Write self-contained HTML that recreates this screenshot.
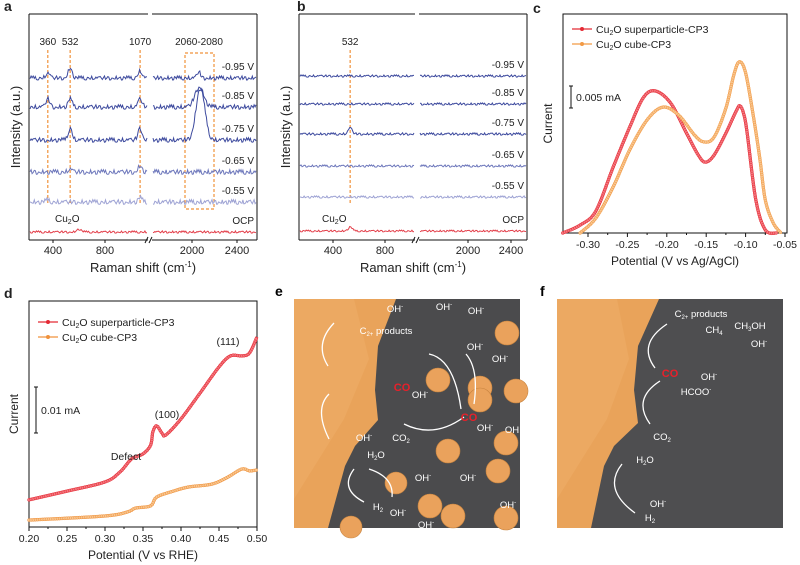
<!DOCTYPE html>
<html><head><meta charset="utf-8">
<style>
body{margin:0;background:#fff;}
svg{display:block;font-family:"Liberation Sans",Arial,sans-serif;}
</style></head>
<body>
<svg id="fig" width="800" height="565" viewBox="0 0 800 565" xmlns="http://www.w3.org/2000/svg">
<g id="pa"></g>
<g id="pb"></g>
<g id="pc"></g>
<g id="pd"></g>

<g id="pe" transform="translate(294,299)">
 <rect x="0" y="0" width="226" height="229" fill="#4b4b4d"/>
 <polygon points="0,0 102,0 84,47 81,91 84,121 61,147 51,167 34,229 0,229" fill="#e9a35a"/>
 <polygon points="0,0 60,0 75,60 50,120 0,200" fill="#f0b06a" opacity="0.5"/>
 <g fill="#eaa25c" stroke="#c8843f" stroke-width="0.6">
  <circle cx="213" cy="34" r="12"/><circle cx="144" cy="81" r="12"/><circle cx="186" cy="89" r="12"/><circle cx="186" cy="101" r="12"/><circle cx="222" cy="92" r="12"/><circle cx="154" cy="152" r="12"/><circle cx="212" cy="144" r="12"/><circle cx="204" cy="172" r="12"/><circle cx="102" cy="184" r="11"/><circle cx="136" cy="207" r="12"/><circle cx="159" cy="217" r="12"/><circle cx="212" cy="219" r="12"/><circle cx="57" cy="228" r="11"/>
 </g>
 <g fill="none" stroke="#fff" stroke-width="1.3">
  <path d="M35,140 Q20,110 35,95"/><path d="M34,67 Q20,45 40,24"/><path d="M110,125 Q140,140 170,118"/><path d="M167,110 Q160,60 135,55"/><path d="M180,105 Q185,70 172,55"/><path d="M60,170 Q45,190 70,203"/><path d="M75,170 Q100,178 98,198"/>
 </g>
 <g fill="#fff" font-size="9.5">
  <text x="92" y="35" text-anchor="middle">C<tspan font-size="6" dy="2">2+</tspan><tspan dy="-2"> products</tspan></text>
  <text x="101" y="13" text-anchor="middle">OH<tspan font-size="6" dy="-4">-</tspan></text>
  <text x="150" y="11" text-anchor="middle">OH<tspan font-size="6" dy="-4">-</tspan></text>
  <text x="182" y="15" text-anchor="middle">OH<tspan font-size="6" dy="-4">-</tspan></text>
  <text x="181" y="51" text-anchor="middle">OH<tspan font-size="6" dy="-4">-</tspan></text>
  <text x="206" y="63" text-anchor="middle">OH<tspan font-size="6" dy="-4">-</tspan></text>
  <text x="126" y="99" text-anchor="middle">OH<tspan font-size="6" dy="-4">-</tspan></text>
  <text x="191" y="132" text-anchor="middle">OH<tspan font-size="6" dy="-4">-</tspan></text>
  <text x="218" y="134" text-anchor="middle">OH</text>
  <text x="70" y="142" text-anchor="middle">OH<tspan font-size="6" dy="-4">-</tspan></text>
  <text x="129" y="182" text-anchor="middle">OH<tspan font-size="6" dy="-4">-</tspan></text>
  <text x="174" y="182" text-anchor="middle">OH<tspan font-size="6" dy="-4">-</tspan></text>
  <text x="104" y="217" text-anchor="middle">OH<tspan font-size="6" dy="-4">-</tspan></text>
  <text x="214" y="209" text-anchor="middle">OH<tspan font-size="6" dy="-4">-</tspan></text>
  <text x="132" y="229" text-anchor="middle">OH<tspan font-size="6" dy="-4">-</tspan></text>
  <text x="107" y="142" text-anchor="middle">CO<tspan font-size="6" dy="2">2</tspan></text>
  <text x="82" y="159" text-anchor="middle">H<tspan font-size="6" dy="2">2</tspan><tspan dy="-2">O</tspan></text>
  <text x="84" y="211" text-anchor="middle">H<tspan font-size="6" dy="2">2</tspan></text>
  <text x="108" y="92" text-anchor="middle" fill="#e8202a" font-size="11" font-weight="bold">CO</text>
  <text x="175" y="122" text-anchor="middle" fill="#e8202a" font-size="11" font-weight="bold">CO</text>
 </g>
</g>

<g id="pf" transform="translate(557,299)">
 <rect x="0" y="0" width="226" height="229" fill="#4e4e50"/>
 <polygon points="0,0 102,0 81,47 77,91 81,124 57,147 47,167 34,229 0,229" fill="#e9a35a"/>
 <polygon points="0,0 60,0 72,60 50,120 0,200" fill="#f0b06a" opacity="0.5"/>
 <g fill="none" stroke="#fff" stroke-width="1.3">
  <path d="M93,125 Q75,100 103,82"/><path d="M98,69 Q80,45 110,25"/><path d="M65,165 Q45,190 78,214"/>
 </g>
 <g fill="#fff" font-size="9.5">
  <text x="144" y="18" text-anchor="middle">C<tspan font-size="6" dy="2">2+</tspan><tspan dy="-2"> products</tspan></text>
  <text x="157" y="34" text-anchor="middle">CH<tspan font-size="6" dy="2">4</tspan></text>
  <text x="193" y="30" text-anchor="middle">CH<tspan font-size="6" dy="2">3</tspan><tspan dy="-2">OH</tspan></text>
  <text x="202" y="48" text-anchor="middle">OH<tspan font-size="6" dy="-4">-</tspan></text>
  <text x="152" y="81" text-anchor="middle">OH<tspan font-size="6" dy="-4">-</tspan></text>
  <text x="139" y="96" text-anchor="middle">HCOO<tspan font-size="6" dy="-4">-</tspan></text>
  <text x="105" y="141" text-anchor="middle">CO<tspan font-size="6" dy="2">2</tspan></text>
  <text x="88" y="164" text-anchor="middle">H<tspan font-size="6" dy="2">2</tspan><tspan dy="-2">O</tspan></text>
  <text x="101" y="208" text-anchor="middle">OH<tspan font-size="6" dy="-4">-</tspan></text>
  <text x="93" y="222" text-anchor="middle">H<tspan font-size="6" dy="2">2</tspan></text>
  <text x="113" y="78" text-anchor="middle" fill="#e8202a" font-size="11" font-weight="bold">CO</text>
 </g>
</g>
<text x="275" y="296" font-size="14" font-weight="bold">e</text>
<text x="540" y="296" font-size="14" font-weight="bold">f</text>
</svg>

<script>
// ---------- Data ----------
const noise = [0.3,-0.8,0.6,-0.2,0.9,-0.5,0.1,-0.9,0.7,0.2,-0.4,0.8,-0.7,0.4,-0.1,0.6,-0.6,0.9,-0.3,0.0,0.5,-0.9,0.3,-0.5,0.8,-0.2,0.7,-0.8,0.2,-0.4,0.9,-0.6,0.4,-0.1,0.6,-0.7,0.1,0.8,-0.3,0.5,-0.9,0.2,0.7,-0.5,0.0];
const ramanLabels = ["-0.95 V","-0.85 V","-0.75 V","-0.65 V","-0.55 V","OCP"];
const ramanColors = ["#3d4a9e","#3d4a9e","#3d4a9e","#6d77bb","#9ea3d4","#e3404b"];
const baseA = [78,107,140,172,202,232];
const peaksA = [
 [[360,5],[532,10],[1070,7],[2060,6]],
 [[360,8],[532,8],[1070,8],[2065,20]],
 [[532,12],[1070,12],[2075,52]],
 [[532,3],[1070,6]],
 [[360,2],[1070,4]],
 [[600,3]]
];
const ampA = [2.2,2.4,2.4,2.6,2.6,1.2];
const baseB = [76,104,134,166,197,231];
const peaksB = [[],[],[[532,6]],[],[],[[532,4],[1100,5]]];
const ampB = [1.2,1.2,1.3,1.2,1.2,1.0];
const ticksLeft = [400,800], ticksRight = [2000,2400];
const cVr = [-0.332,-0.31,-0.29,-0.268,-0.247,-0.23,-0.215,-0.195,-0.175,-0.16,-0.151,-0.14,-0.125,-0.112,-0.107,-0.102,-0.098,-0.087,-0.075,-0.06];
const cIr = [0,1.8,5,15,24.1,30.7,32.3,29.5,22.7,17.7,16.1,17.7,22.7,27.7,28.9,26.8,22.7,7.5,0.7,0];
const cVo = [-0.31,-0.29,-0.268,-0.247,-0.225,-0.205,-0.185,-0.165,-0.153,-0.14,-0.125,-0.115,-0.108,-0.1,-0.09,-0.082,-0.075,-0.065,-0.055];
const cIo = [0,3.4,10.5,18.9,25.7,28.6,26.8,22.3,20.7,21.8,28.4,35.9,38.9,36.4,26.4,17,7.5,2.3,0];
const cTicks = [-0.30,-0.25,-0.20,-0.15,-0.10,-0.05];
const dVr = [0.2,0.25,0.3,0.32,0.335,0.35,0.36,0.363,0.368,0.375,0.38,0.4,0.425,0.45,0.465,0.48,0.49,0.5];
const dIr = [5.9,7.8,9.8,12,14.8,15.9,17.8,20.7,22,20.4,20,23.5,29.1,34.8,37.2,37.2,37.8,41.3];
const dVo = [0.2,0.3,0.33,0.34,0.36,0.368,0.39,0.41,0.44,0.46,0.48,0.49,0.5];
const dIo = [1.5,2.4,3.3,4.1,4.6,6.5,7.8,8.7,9.3,10.7,12.6,12.2,12.4];
const dTicks = [0.20,0.25,0.30,0.35,0.40,0.45,0.50];

const NS="http://www.w3.org/2000/svg";
function mk(tag, attrs, parent){const e=document.createElementNS(NS,tag);for(const k in attrs)e.setAttribute(k,attrs[k]);parent.appendChild(e);return e;}
function fill(t,s){
 s=String(s);
 const re=/<tspan([^>]*)>([^<]*)<\/tspan>|([^<]+)/g;let m;
 while((m=re.exec(s))!==null){
  if(m[3]!==undefined){t.appendChild(document.createTextNode(m[3]));}
  else{const ts=document.createElementNS(NS,'tspan');const ar=/(\S+)="([^"]*)"/g;let a;
   while((a=ar.exec(m[1]))!==null)ts.setAttribute(a[1],a[2]);
   ts.textContent=m[2];t.appendChild(ts);}
 }
}
function txt(parent,x,y,s,size,anchor){const t=mk('text',{x:x,y:y,'font-size':size,'text-anchor':anchor||'start',fill:'#222'},parent);fill(t,s);return t;}
function smooth(pts){let d='M'+pts[0][0]+','+pts[0][1];for(let i=0;i<pts.length-1;i++){const p0=pts[i-1]||pts[i],p1=pts[i],p2=pts[i+1],p3=pts[i+2]||p2;const c1=[p1[0]+(p2[0]-p0[0])/6,p1[1]+(p2[1]-p0[1])/6],c2=[p2[0]-(p3[0]-p1[0])/6,p2[1]-(p3[1]-p1[1])/6];d+=' C'+c1[0]+','+c1[1]+' '+c2[0]+','+c2[1]+' '+p2[0]+','+p2[1];}return d;}
function lin(a,b,va){const f=function(v){return a+(v-va)*b;};f.inv=function(x){return va+(x-a)/b;};return f;}

// ---------- Raman panels ----------
function raman(g, cfg){
 const L=cfg.L,R=cfg.R,T=cfg.T,B=cfg.B,brk=cfg.brk,xl=cfg.xl,xr=cfg.xr,base=cfg.base,peaks=cfg.peaks,amp=cfg.amp;
 const lt=txt(g,cfg.letterX,11,cfg.letter,14,'start');lt.setAttribute('font-weight','bold');
 const ax=mk('g',{stroke:'#111','stroke-width':1,fill:'none'},g);
 
 
 mk('line',{x1:L,y1:T,x2:L,y2:B},ax);mk('line',{x1:R,y1:T,x2:R,y2:B},ax);
 mk('line',{x1:L,y1:T,x2:brk-2,y2:T},ax);mk('line',{x1:brk+2,y1:T,x2:R,y2:T},ax);
 mk('line',{x1:L,y1:B,x2:brk-2,y2:B},ax);mk('line',{x1:brk+2,y1:B,x2:R,y2:B},ax);
 mk('path',{d:'M'+(brk-5)+','+(B+3)+' l3,-6 M'+(brk-1)+','+(B+3)+' l3,-6'},ax);
 ticksLeft.forEach(function(v){const x=xl(v);mk('line',{x1:x,y1:B,x2:x,y2:B+3},ax);const t=txt(g,x,B+14,v,11,'middle');});
 ticksRight.forEach(function(v){const x=xr(v);mk('line',{x1:x,y1:B,x2:x,y2:B+3},ax);const t=txt(g,x,B+14,v,11,'middle');});
 const xt=txt(g,(L+R)/2,B+32,'Raman shift (cm<tspan font-size="8" dy="-5">-1</tspan><tspan dy="5">)</tspan>',13,'middle');
 
 const yt=txt(g,0,0,'Intensity (a.u.)',13,'middle');yt.setAttribute('transform','translate('+(L-9)+','+((T+B)/2)+') rotate(-90)');
 
 cfg.lines.forEach(function(l){const e=mk('path',{d:l,stroke:'#f0923a','stroke-width':1.2,'stroke-dasharray':'3,2',fill:'none'},g);});
 for(let s=0;s<6;s++){
  const ranges=[[xl.inv(L+1),xl.inv(brk-3)],[xr.inv(brk+3),xr.inv(R-1)]];
  ranges.forEach(function(rg,ri){
   const f=ri?xr:xl;let d='';const n=110;
   for(let i=0;i<=n;i++){const v=rg[0]+(rg[1]-rg[0])*i/n;let y=base[s];
    peaks[s].forEach(function(p){const w=p[1]>15?55:22;const z=(v-p[0])/w;y-=p[1]*Math.exp(-z*z);});
    y+=amp[s]*noise[(i*7+s*11+ri*5)%noise.length];
    d+=(i?'L':'M')+f(v).toFixed(1)+','+y.toFixed(1);}
   const p=mk('path',{d:d,stroke:ramanColors[s],'stroke-width':1,fill:'none'},g);
   
   
  });
  const lb=txt(g,R-3,base[s]-8,ramanLabels[s],10,'end');
  
 }
}
const xlA=lin(53,0.13,400), xrA=lin(192,0.1125,2000);
raman(document.getElementById('pa'),{L:29,R:257,T:14,B:240,brk:150,xl:xlA,xr:xrA,base:baseA,peaks:peaksA,amp:ampA,letter:'a',letterX:4,
 lines:['M'+xlA(360)+',50 V205','M'+xlA(532)+',50 V205','M'+xlA(1070)+',50 V205','M185,53 H214 V209 H185 Z']});
const ga=document.getElementById('pa');
[['360',xlA(360),45],['532',xlA(532),45],['1070',xlA(1070),45],['2060-2080',199,45]].forEach(function(a){const t=txt(ga,a[1],a[2],a[0],10,'middle');});
{const t=txt(ga,55,222,'Cu<tspan font-size="7" dy="2">2</tspan><tspan dy="-2">O</tspan>',10,'start');}
const xlB=lin(333,0.13,400), xrB=lin(468,0.1075,2000);
raman(document.getElementById('pb'),{L:299,R:527,T:14,B:240,brk:417,xl:xlB,xr:xrB,base:baseB,peaks:peaksB,amp:ampB,letter:'b',letterX:297,
 lines:['M'+xlB(532)+',50 V205']});
const gb=document.getElementById('pb');
{const t=txt(gb,xlB(532),45,'532',10,'middle');}
{const t=txt(gb,322,222,'Cu<tspan font-size="7" dy="2">2</tspan><tspan dy="-2">O</tspan>',10,'start');}

// ---------- curve panels ----------
function curvePanel(g,cfg){
 const L=cfg.L,R=cfg.R,T=cfg.T,B=cfg.B,xs=cfg.xs,ys=cfg.ys,bar=cfg.bar,minor=cfg.minor;
 const lt=txt(g,cfg.lx,cfg.ly,cfg.letter,14,'start');lt.setAttribute('font-weight','bold');
 const fr=mk('rect',{x:L,y:T,width:R-L,height:B-T,fill:'none',stroke:'#111','stroke-width':1},g);
 
 cfg.ticks.forEach(function(v){const x=xs(v);mk('line',{x1:x,y1:B,x2:x,y2:B+4,stroke:'#111'},g);
  const t=txt(g,x,B+15,v.toFixed(2),10.5,'middle');
  const xm=xs(v+minor);if(xm<R)mk('line',{x1:xm,y1:B,x2:xm,y2:B+2,stroke:'#111'},g);});
 const xt=txt(g,(L+R)/2,B+32,cfg.title,12,'middle');
 const yt=txt(g,0,0,'Current',12,'middle');yt.setAttribute('transform','translate('+(L-11)+','+((T+B)/2)+') rotate(-90)');
 
 cfg.series.forEach(function(s,si){
  const pts=s.v.map(function(v,i){return [xs(v),ys(s.i[i])];});
  const p=mk('path',{d:smooth(pts),stroke:s.c,'stroke-width':3,fill:'none'},g);
  
  let len=0;try{len=p.getTotalLength();}catch(e){len=0;}
  for(let l=0;l<len;l+=2.2){const q=p.getPointAtLength(l);mk('circle',{cx:q.x,cy:q.y,r:1.5,fill:s.m,stroke:s.c,'stroke-width':0.5},g);}
  const ly2=cfg.legendY+si*15;
  const lg=mk('g',{},g);
  mk('line',{x1:L+9,y1:ly2,x2:L+29,y2:ly2,stroke:s.c,'stroke-width':1.3},lg);
  mk('circle',{cx:L+19,cy:ly2,r:2,fill:s.c},lg);
  txt(lg,L+33,ly2+4,s.label,10.5,'start');
 });
 const sb=mk('line',{x1:bar[0],y1:bar[1],x2:bar[0],y2:bar[2],stroke:'#111','stroke-width':1},g);
 
 mk('line',{x1:bar[0]-2,y1:bar[1],x2:bar[0]+2,y2:bar[1],stroke:'#111'},g);mk('line',{x1:bar[0]-2,y1:bar[2],x2:bar[0]+2,y2:bar[2],stroke:'#111'},g);
 const st=txt(g,bar[0]+5,(bar[1]+bar[2])/2+4,cfg.barTxt,10.5,'start');
}
const lab1='Cu<tspan font-size="7" dy="2">2</tspan><tspan dy="-2">O superparticle-CP3</tspan>';
const lab2='Cu<tspan font-size="7" dy="2">2</tspan><tspan dy="-2">O cube-CP3</tspan>';
curvePanel(document.getElementById('pc'),{L:563,R:787,T:14,B:233,xs:lin(588,788,-0.30),ys:function(v){return 233-v*4.4;},ticks:cTicks,
 title:'Potential (V vs Ag/AgCl)',letter:'c',lx:533,ly:13,legendY:29,bar:[571,86,108],barTxt:'0.005 mA',minor:0.025,
 series:[{n:'superparticle',v:cVr,i:cIr,c:'#e42a35',m:'#f4767d',label:lab1},{n:'cube',v:cVo,i:cIo,c:'#f29a45',m:'#f8c58e',label:lab2}]});
curvePanel(document.getElementById('pd'),{L:29,R:257,T:301,B:527,xs:lin(29,760,0.20),ys:function(v){return 527-v*4.6;},ticks:dTicks,
 title:'Potential (V vs RHE)',letter:'d',lx:4,ly:298,legendY:322,bar:[36,387,433],barTxt:'0.01 mA',minor:0.025,
 series:[{n:'superparticle',v:dVr,i:dIr,c:'#e42a35',m:'#f4767d',label:lab1},{n:'cube',v:dVo,i:dIo,c:'#f0923c',m:'#f8c58e',label:lab2}]});
const gd=document.getElementById('pd');
[['(100)',167,418],['(111)',228,345],['Defect',126,460]].forEach(function(a){const t=txt(gd,a[1],a[2],a[0],10.5,'middle');});
</script>
</body></html>
